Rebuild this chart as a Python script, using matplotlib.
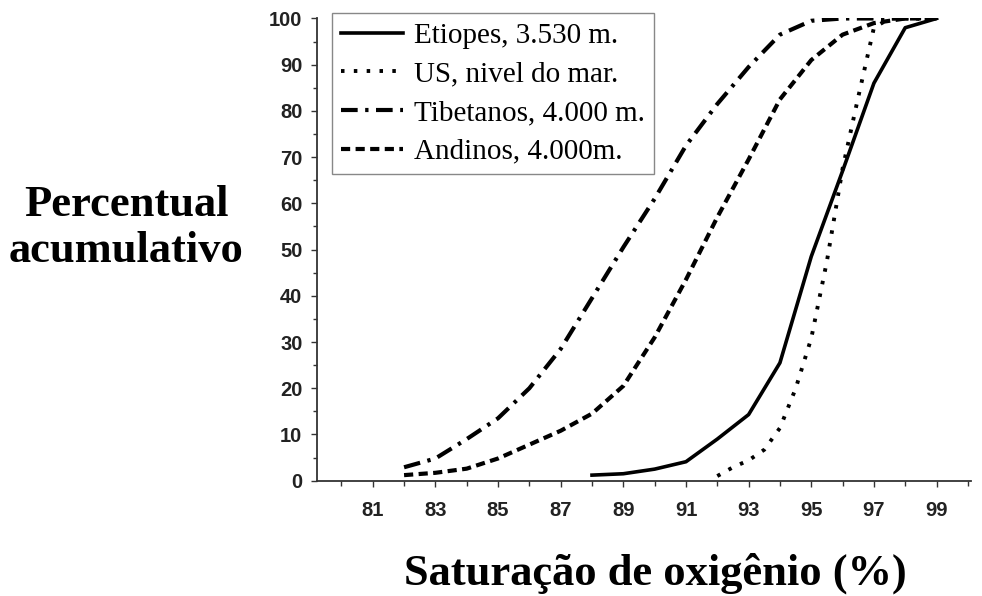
import matplotlib.pyplot as plt
from matplotlib.ticker import MultipleLocator, FixedLocator

# Saturação de oxigênio (%) vs percentual acumulativo
etiopes_x = [88, 89, 90, 91, 92, 93, 94, 95, 96, 97, 98, 99]
etiopes_y = [1.2, 1.5, 2.5, 4.1, 9.0, 14.3, 25.5, 48.5, 67.0, 86.0, 98.0, 100.0]

us_x = [92, 92.5, 93, 93.5, 94, 94.5, 95, 95.5, 96, 96.5, 97, 97.5, 98, 99]
us_y = [1.0, 2.9, 4.4, 6.7, 11.4, 19.9, 30.8, 47.5, 67.5, 83.0, 98.0, 100.0, 100.0, 100.0]

tibet_x = [82, 83, 84, 85, 86, 87, 88, 89, 90, 91, 92, 93, 94, 95, 96, 97, 98, 99]
tibet_y = [2.9, 4.8, 9.0, 13.5, 20.0, 28.5, 39.5, 50.5, 61.0, 72.5, 81.5, 89.5,
           96.5, 99.5, 100.0, 100.0, 100.0, 100.0]

andes_x = [82, 83, 84, 85, 86, 87, 88, 89, 90, 91, 92, 93, 94, 95, 96, 97, 98, 99]
andes_y = [1.2, 1.7, 2.6, 4.8, 7.8, 10.8, 14.5, 20.5, 31.0, 43.5, 57.0, 69.5,
           82.5, 91.0, 96.5, 99.0, 100.0, 100.0]

labels = ["Etiopes, 3.530 m.", "US, nivel do mar.", "Tibetanos, 4.000 m.", "Andinos, 4.000m."]
x_ticks = [81, 83, 85, 87, 89, 91, 93, 95, 97, 99]
y_ticks = [0, 10, 20, 30, 40, 50, 60, 70, 80, 90, 100]

fig = plt.figure(figsize=(9.82, 5.96), dpi=100)
ax = fig.add_axes([0.3228, 0.1935, 0.666, 0.7755])

ax.plot(etiopes_x, etiopes_y, color="black", lw=2.6, solid_joinstyle="round",
        label=labels[0])
ax.plot(us_x, us_y, color="black", lw=2.8, dashes=(0.9, 2.4), dash_capstyle="butt",
        label=labels[1])
ax.plot(tibet_x, tibet_y, color="black", lw=3.0, dashes=(4.0, 1.8, 0.8, 1.8),
        label=labels[2])
ax.plot(andes_x, andes_y, color="black", lw=3.0, dashes=(2.2, 1.3), label=labels[3])

ax.set_xlim(79.22, 100.1)
ax.set_ylim(0, 100)

for side in ["top", "right"]:
    ax.spines[side].set_visible(False)
for side in ["left", "bottom"]:
    ax.spines[side].set_color("#333333")
    ax.spines[side].set_linewidth(1.3)

ax.xaxis.set_major_locator(FixedLocator(x_ticks))
ax.xaxis.set_minor_locator(MultipleLocator(1))
ax.yaxis.set_major_locator(FixedLocator(y_ticks))
ax.yaxis.set_minor_locator(MultipleLocator(5))
ax.tick_params(axis="both", which="both", direction="out", color="#333333", width=1.0)
ax.tick_params(axis="x", which="major", length=4.5, pad=10)
ax.tick_params(axis="x", which="minor", length=3.5)
ax.tick_params(axis="y", which="major", length=4.5, pad=6)
ax.tick_params(axis="y", which="minor", length=3)
for lab in ax.get_xticklabels() + ax.get_yticklabels():
    lab.set_fontfamily("Liberation Sans")
    lab.set_fontweight("bold")
    lab.set_fontsize(14.5)
    lab.set_color("#222222")

leg = fig.legend(loc="upper left", bbox_to_anchor=(332 / 982, 1 - 13 / 596),
                 bbox_transform=fig.transFigure, borderaxespad=0,
                 prop={"family": "Liberation Serif", "size": 21},
                 handlelength=2.1, handletextpad=0.4, labelspacing=0.42,
                 borderpad=0.32, fancybox=False, framealpha=1)
leg.get_frame().set_edgecolor("#888888")
leg.get_frame().set_linewidth(1.0)

fig.text(126 / 982, 1 - 228 / 596, "Percentual\nacumulativo", ha="center", va="center",
         family="Liberation Serif", weight="bold", size=32, linespacing=1.18)
fig.text(655 / 982, 1 - 585 / 596, "Saturação de oxigênio (%)", ha="center",
         va="baseline", family="Liberation Serif", weight="bold", size=32)

fig.savefig("out.png", dpi=100)
